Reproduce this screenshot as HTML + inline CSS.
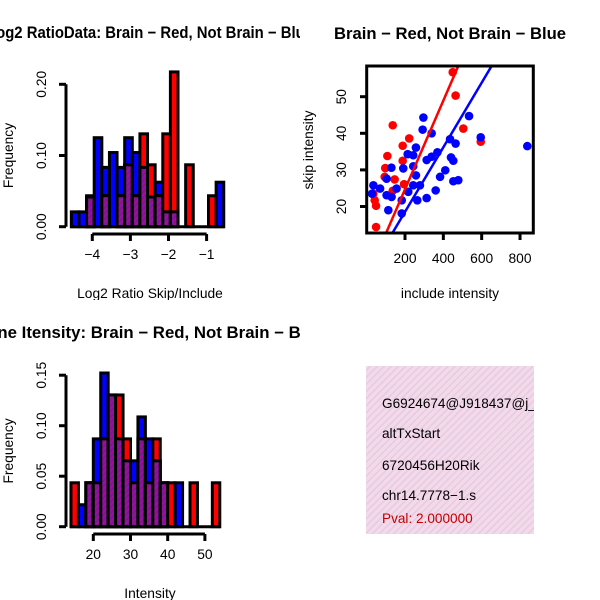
<!DOCTYPE html>
<html><head><meta charset="utf-8"><style>
body{margin:0;background:#fff}
svg{display:block;font-family:"Liberation Sans",sans-serif}
</style></head><body>
<svg id="c" width="600" height="600">
<defs>
<pattern id="hatch" width="4" height="4" patternUnits="userSpaceOnUse" patternTransform="rotate(45)">
<rect width="4" height="4" fill="#9a10a0"/><rect width="2" height="4" fill="#7a1a8a"/></pattern>
<pattern id="pink" width="5" height="5" patternUnits="userSpaceOnUse" patternTransform="rotate(45)">
<rect width="5" height="5" fill="#f6d8ee"/><rect width="1.5" height="5" fill="#e0cfd8"/></pattern>
<clipPath id="cl1"><rect x="0" y="0" width="300" height="300"/></clipPath>
<clipPath id="cl3"><rect x="0" y="300" width="300" height="300"/></clipPath>
<clipPath id="cl2"><rect x="366.7" y="66" width="166.6" height="167"/></clipPath>
<clipPath id="cl4"><rect x="366" y="366" width="168" height="168"/></clipPath>
</defs>
<g id="p1" clip-path="url(#cl1)"></g>
<g id="p2"></g>
<g id="p3" clip-path="url(#cl3)"></g>
<g clip-path="url(#cl4)">
<rect x="366" y="366" width="168" height="168" fill="url(#pink)"/>
<text x="382" y="408" font-size="13.6">G6924674@J918437@j_</text>
<text x="382" y="438" font-size="13.6">altTxStart</text>
<text x="382" y="470" font-size="13.6">6720456H20Rik</text>
<text x="382" y="500" font-size="13.6">chr14.7778−1.s</text>
<text x="382" y="523" font-size="13.6" fill="#c00000">Pval: 2.000000</text>
</g>
</svg>
<script>
// Histogram 1 (log2 ratio), bin start -4.55 width 0.2, counts
const h1Blue=[1,1,2,6,4,5,4,6,5,4,2,3,1,1,0,0,0,0,0,3];
const h1Red=[0,0,2,0,2,0,2,4,2,6,4,2,6,10,0,4,0,0,2,0];
const h1Ticks=[-4,-3,-2,-1];
const h1YTicks=[0,0.1,0.2];
// Histogram 2 (intensity), bin start 14 width 2
const h2Blue=[0,1,2,4,7,6,4,3,3,5,4,3,2,0,2,0,0,0,0,0];
const h2Red=[2,0,2,2,4,6,6,4,2,4,2,4,2,2,0,0,2,0,0,2];
const h2Ticks=[20,30,40,50];
const h2YTicks=[0,0.05,0.1,0.15];
// Scatter
const redX=[449,464,136,504,222,188,108,188,97,94,146,136,195,42,49,49,595,35];
const redY=[56.7,50.3,42.2,41.3,38.6,36.6,33.8,32.5,30.5,28.1,27.4,24.3,26.1,21.7,20.2,14.4,37.7,23.5];
const blueX=[296,292,339,534,595,838,435,464,214,243,257,369,339,313,440,452,129,191,243,257,410,383,243,278,35,28,70,104,130,183,264,313,360,452,478,113,183,217,156,104];
const blueY=[44.3,41.0,40.0,44.7,38.9,36.5,38.4,37.2,34.3,34.0,36.1,34.8,33.6,32.7,33.4,32.5,30.6,30.4,31.0,28.5,29.9,28.1,25.8,25.8,25.8,23.5,24.9,23.1,22.6,21.7,21.7,22.3,24.4,26.9,27.2,19.0,18.1,24.0,24.9,27.6];
const redFit=[0.46,0.1212];
const blueFit=[0.9,0.0882];
const scXTicks=[200,400,600,800];
const scYTicks=[20,30,40,50];

const NS="http://www.w3.org/2000/svg";
const FS=13.8, TFS=16.5;
function mk(parent,tag,attrs,txt){const e=document.createElementNS(NS,tag);for(const k in attrs)e.setAttribute(k,attrs[k]);if(txt!==undefined)e.textContent=txt;parent.appendChild(e);return e;}

function hist(g,blue,red,start,bw,sx,sy,unit,xt,yt,yFmt,title,xlab,y0,ytop,tlen){
  const n=blue.reduce((a,b)=>a+b,0);
  const nr=red.reduce((a,b)=>a+b,0);
  for(let i=0;i<blue.length;i++){
    const x0=sx(start+i*bw),x1=sx(start+(i+1)*bw);
    const b=blue[i]/n, r=red[i]/nr, m=Math.min(b,r);
    if(b>0){const e=mk(g,'rect',{x:x0,y:sy(b),width:x1-x0,height:sy(0)-sy(b),fill:'#0000ff',stroke:'#000','stroke-width':3});
      }
    if(r>0){const e=mk(g,'rect',{x:x0,y:sy(r),width:x1-x0,height:sy(0)-sy(r),fill:'#ff0000',stroke:'#000','stroke-width':3});
      }
    if(m>0){const e=mk(g,'rect',{x:x0,y:sy(m),width:x1-x0,height:sy(0)-sy(m),fill:'url(#hatch)',stroke:'#000','stroke-width':3});
      }
  }
  mk(g,'line',{x1:sx(start)-1,x2:sx(start+blue.length*bw)+1,y1:sy(0),y2:sy(0),stroke:'#000','stroke-width':3});
  mk(g,'line',{x1:66,x2:66,y1:sy(yt[0]),y2:sy(yt[yt.length-1]),stroke:'#000','stroke-width':3});
  yt.forEach(v=>{mk(g,'line',{x1:59,x2:66,y1:sy(v),y2:sy(v),stroke:'#000','stroke-width':3});
    const t=mk(g,'text',{x:46,y:sy(v),'font-size':FS,'text-anchor':'middle',transform:`rotate(-90 46 ${sy(v)})`},yFmt(v));
    });
  mk(g,'line',{x1:sx(xt[0]),x2:sx(xt[xt.length-1]),y1:y0+7,y2:y0+7,stroke:'#000','stroke-width':3});
  xt.forEach(v=>{mk(g,'line',{x1:sx(v),x2:sx(v),y1:y0+7,y2:y0+14,stroke:'#000','stroke-width':3});
    const t=mk(g,'text',{x:sx(v),y:y0+32,'font-size':FS,'text-anchor':'middle'},String(v).replace('-','−'));
    });
  const tt=mk(g,'text',{x:150,y:ytop,'font-size':TFS,'font-weight':'bold','text-anchor':'middle',textLength:tlen,lengthAdjust:'spacingAndGlyphs'},title);
  
  const xl=mk(g,'text',{x:150,y:y0+71,'font-size':FS,'text-anchor':'middle'},xlab);
  
  const yl=mk(g,'text',{x:13,y:(sy(0)+sy(yt[yt.length-1]))/2,'font-size':FS,'text-anchor':'middle',transform:`rotate(-90 13 ${(sy(0)+sy(yt[yt.length-1]))/2})`},'Frequency');
  
}
const fmt2=v=>v.toFixed(2);
hist(document.getElementById('p1'),h1Blue,h1Red,-4.55,0.2,v=>92.3+(v+4)*38.1,v=>226.7-v*712,0,h1Ticks,h1YTicks,fmt2,
 'Log2 RatioData: Brain − Red, Not Brain − Blue','Log2 Ratio Skip/Include',227,38,326);
hist(document.getElementById('p3'),h2Blue,h2Red,14,2,v=>93.3+(v-20)*3.72,v=>526.7-v*1010,0,h2Ticks,h2YTicks,fmt2,
 'Gene Itensity: Brain − Red, Not Brain − Blue','Intensity',527,338,350);

(function(){
  const g=document.getElementById('p2');
  const sx=v=>405+(v-200)*0.1917, sy=v=>96.7-(v-50)*3.66;
  const pg=mk(g,'g',{'clip-path':'url(#cl2)'});
  redX.forEach((x,i)=>{const c=mk(pg,'circle',{cx:sx(x),cy:sy(redY[i]),r:4.3,fill:'#ff0000'});
    });
  blueX.forEach((x,i)=>{const c=mk(pg,'circle',{cx:sx(x),cy:sy(blueY[i]),r:4.3,fill:'#0000ff'});
    });
  [[redFit,'#ff0000','red-fit-line'],[blueFit,'#0000ff','blue-fit-line']].forEach(([f,col,nm])=>{
    const l=mk(pg,'line',{x1:sx(-100),y1:sy(f[0]+f[1]*-100),x2:sx(1000),y2:sy(f[0]+f[1]*1000),stroke:col,'stroke-width':2.5});
    });
  mk(g,'rect',{x:366.7,y:66,width:166.6,height:167,fill:'none',stroke:'#000','stroke-width':3});
  scXTicks.forEach(v=>{mk(g,'line',{x1:sx(v),x2:sx(v),y1:233,y2:240,stroke:'#000','stroke-width':3});
    const t=mk(g,'text',{x:sx(v),y:263,'font-size':FS,'text-anchor':'middle'},v);
    });
  scYTicks.forEach(v=>{mk(g,'line',{x1:360,x2:366.7,y1:sy(v),y2:sy(v),stroke:'#000','stroke-width':3});
    const t=mk(g,'text',{x:346,y:sy(v),'font-size':FS,'text-anchor':'middle',transform:`rotate(-90 346 ${sy(v)})`},v);
    });
  const tt=mk(g,'text',{x:450,y:39,'font-size':TFS,'font-weight':'bold','text-anchor':'middle',textLength:232,lengthAdjust:'spacingAndGlyphs'},'Brain − Red, Not Brain − Blue');
  
  const xl=mk(g,'text',{x:450,y:298,'font-size':FS,'text-anchor':'middle'},'include intensity');
  
  const yl=mk(g,'text',{x:313,y:150,'font-size':FS,'text-anchor':'middle',transform:'rotate(-90 313 150)'},'skip intensity');
  
})();
</script>
</body></html>
